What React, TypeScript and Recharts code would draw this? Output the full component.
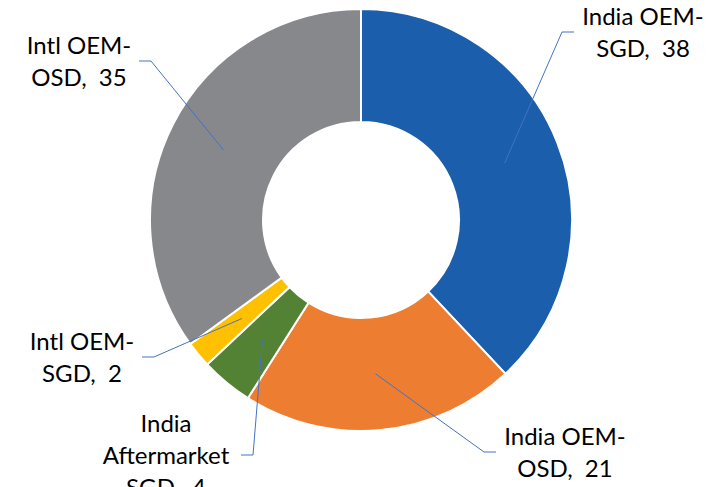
import React from "react";
import { PieChart, Pie, Cell } from "recharts";

const categories = [
  "India OEM-SGD",
  "India OEM-OSD",
  "India Aftermarket SGD",
  "Intl OEM-SGD",
  "Intl OEM-OSD",
];
const values = [38, 21, 4, 2, 35];
const colors = ["#1B5EAB", "#ED7D31", "#548235", "#FFC000", "#87888B"];

// label layout: elbow offset from pie centre, horizontal tail direction, text-centre offset from tail end
const labelLayout = [
  { ex: 201, ey: -188, dir: 1, tx: 69 },
  { ex: 123, ey: 232, dir: 1, tx: 69 },
  { ex: -108, ey: 235, dir: -1, tx: -75 },
  { ex: -207, ey: 137, dir: -1, tx: -60 },
  { ex: -210, ey: -159, dir: -1, tx: -60 },
];

const data = categories.map((name, i) => ({ name, value: values[i] }));

const RAD = Math.PI / 180;
const FONT = "Lato, 'Open Sans', sans-serif";
const LINE_H = 32;

function wrapLabel(name: string, value: number): string[] {
  const raw = name.split(/(?<=-)|(?<= )/);
  raw[raw.length - 1] = raw[raw.length - 1] + ",  " + value;
  const lines: string[] = [];
  let cur = "";
  for (const tok of raw) {
    if (cur && (cur + tok).trim().length > 11) {
      lines.push(cur.trim());
      cur = tok;
    } else {
      cur += tok;
    }
  }
  if (cur) lines.push(cur.trim());
  return lines;
}

const renderLabel = (props: any) => {
  const { cx, cy, midAngle, innerRadius, outerRadius, index } = props;
  const r = (innerRadius + outerRadius) / 2;
  const sx = cx + r * Math.cos(-midAngle * RAD);
  const sy = cy + r * Math.sin(-midAngle * RAD);
  const L = labelLayout[index];
  const mx = cx + L.ex;
  const my = cy + L.ey;
  const endX = mx + 12 * L.dir;
  const lines = wrapLabel(categories[index], values[index]);
  const n = lines.length;
  const tcx = endX + L.tx;
  return (
    <g key={"lbl" + index}>
      <polyline
        points={`${sx},${sy} ${mx},${my} ${endX},${my}`}
        fill="none"
        stroke="#4472C4"
        strokeWidth={1}
      />
      {lines.map((t, i) => (
        <text
          key={i}
          x={tcx}
          y={my + (i - (n - 1) / 2) * LINE_H + 8.5}
          textAnchor="middle"
          fontFamily={FONT}
          fontSize={24}
          fill="#000"
          style={{ whiteSpace: "pre" }}
        >
          {t}
        </text>
      ))}
    </g>
  );
};

export default function App() {
  return (
    <div style={{ position: "absolute", left: 0, top: 0, width: 718, height: 487, background: "#fff" }}>
      <PieChart width={718} height={487} margin={{ top: 0, right: 0, bottom: 0, left: 0 }}>
        <Pie
          data={data}
          dataKey="value"
          nameKey="name"
          cx={361}
          cy={220}
          innerRadius={98}
          outerRadius={211}
          startAngle={90}
          endAngle={-270}
          stroke="#fff"
          strokeWidth={2}
          label={renderLabel}
          labelLine={false}
          isAnimationActive={false}
        >
          {data.map((d, i) => (
            <Cell key={d.name} fill={colors[i]} />
          ))}
        </Pie>
      </PieChart>
    </div>
  );
}
